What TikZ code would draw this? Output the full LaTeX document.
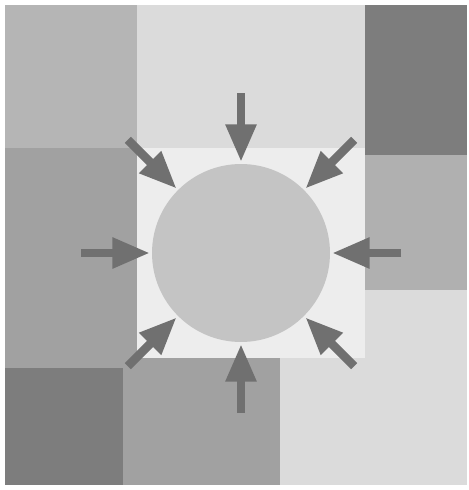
\documentclass[tikz,border=0pt]{standalone}
\usepackage{tikz}
\usetikzlibrary{arrows.meta}
\definecolor{tileA}{gray}{0.71}
\definecolor{tileB}{gray}{0.63}
\definecolor{tileC}{gray}{0.49}
\definecolor{tileD}{gray}{0.86}
\definecolor{tileE}{gray}{0.93}
\definecolor{tileF}{gray}{0.69}
\definecolor{tileG}{gray}{0.86}
\definecolor{cellgray}{gray}{0.77}
\definecolor{pushgray}{gray}{0.44}

\begin{document}
\begin{tikzpicture}[
    x=0.02cm, y=-0.02cm,
    tile/.style={fill=#1},
    cell/.style={circle, fill=cellgray, minimum size=3.56cm, inner sep=0pt},
    push/.style={pushgray, line width=0.17cm, -{Triangle[length=0.75cm, width=0.58cm]}, shorten >=1pt}
  ]
    % Background
    \useasboundingbox (0,0) rectangle (469,490);
    \fill[white] (0,0) rectangle (469,490);

    % Tiles
    \fill[tile=tileA] (5,5) rectangle (137,148);
    \fill[tile=tileB] (5,148) rectangle (137,368);
    \fill[tile=tileC] (5,368) rectangle (123,485);
    \fill[tile=tileB] (123,358) rectangle (280,485);
    \fill[tile=tileD] (137,5) rectangle (365,148);
    \fill[tile=tileE] (137,148) rectangle (365,358);
    \fill[tile=tileC] (365,5) rectangle (467,155);
    \fill[tile=tileF] (365,155) rectangle (467,290);
    \fill[tile=tileG] (280,290) rectangle (467,485);
    \fill[tile=tileE] (280,290) rectangle (365,358);

    % Cell
    \node[cell] (cell) at (241,253) {};

    % Arrows
    \foreach \a in {0,45,...,315}{
      \coordinate (tail\a) at ([shift={(\a:160)}]cell.center);
      \draw[push] (tail\a) -- (cell);
    }
  \end{tikzpicture}
\end{document}
